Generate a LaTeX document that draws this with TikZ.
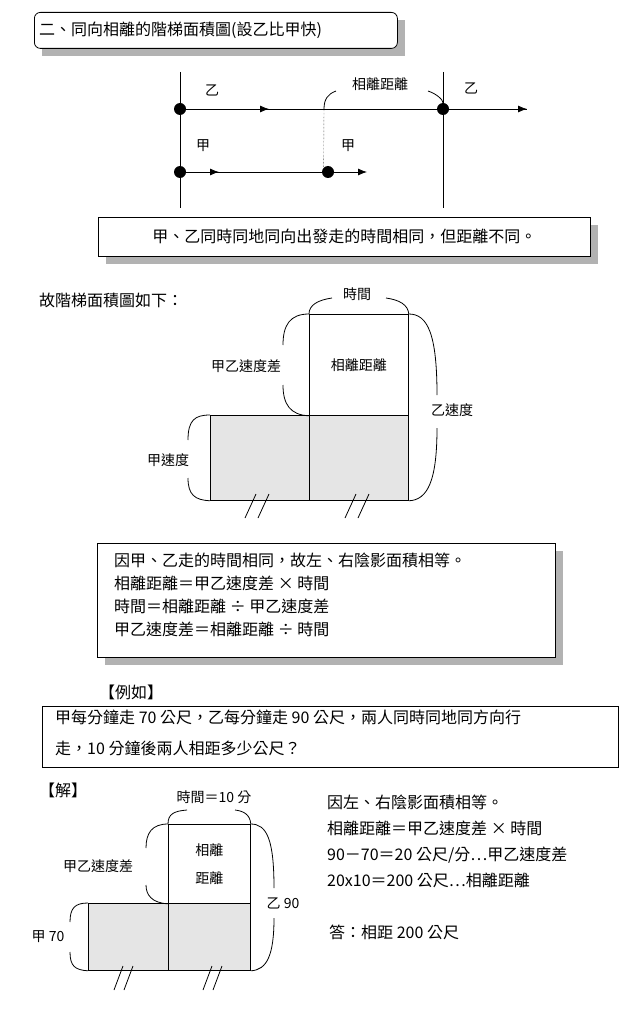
\documentclass[tikz,border=0pt]{standalone}
\usepackage{fontspec}
\setmainfont{Noto Sans CJK TC}
\usetikzlibrary{positioning,arrows.meta}

\begin{document}
\begin{tikzpicture}[x=1pt,y=-1pt,
	txt/.style={font=\fontsize{16}{19}\selectfont, inner sep=1pt},
	lbl/.style={font=\fontsize{14}{17}\selectfont, inner sep=1pt},
	shbox/.style={draw, fill=white, thick},
	shadowbox/.style={fill=black!30, draw=none},
	dot/.style={circle, fill=black, inner sep=0pt, minimum size=12pt},
	arr/.style={-{Latex[length=9pt,width=7pt]}, thick},
	brace/.style={thick},
	shade/.style={draw, thick, fill=black!10},
	cell/.style={draw, thick},
	]
	\useasboundingbox (0,0) rectangle (631,1024);
	%Shadows
	\fill[shadowbox] (42,20) rectangle (405,56);
	\fill[shadowbox] (106,225) rectangle (598,264);
	\fill[shadowbox] (105,551) rectangle (563,665);
	%Title
	\node[shbox, rounded corners=6pt, minimum width=363, minimum height=36, anchor=north west] (title) at (34,12) {};
	\node[txt, anchor=west] (titletxt) at (38,30) {二、同向相離的階梯面積圖(設乙比甲快)};
	
	%Top lines
	\coordinate (v1t) at (180,72); \coordinate (v1b) at (180,208);
	\coordinate (v2t) at (443,72); \coordinate (v2b) at (443,208);
	\draw[thick] (v1t) -- (v1b);
	\draw[thick] (v2t) -- (v2b);
	\node[dot] (y1) at (180,109) {};
	\node[dot] (y2) at (443,109) {};
	\node[dot] (j1) at (180,172) {};
	\node[dot] (j2) at (328,172) {};
	\coordinate (yend) at (527,109);
	\coordinate (ymid) at (269,109);
	\coordinate (jend) at (367,172);
	\coordinate (jmid) at (219,172);
	\draw[thick] (y1) -- (yend);
	\draw[arr] (y1) -- (ymid);
	\draw[arr] (y2) -- (yend);
	\draw[thick] (j1) -- (j2);
	\draw[arr] (j1) -- (jmid);
	\draw[arr] (j2) -- (jend);
	\coordinate (dtop) at (324,109);
	\draw[densely dotted] (dtop) -- (j2.north west);
	\node[lbl] (ylab1) at (212,90) {乙};
	\node[lbl] (ylab2) at (471,88) {乙};
	\node[lbl] (jlab1) at (203,146) {甲};
	\node[lbl] (jlab2) at (348,146) {甲};
	\node[lbl] (gap) at (380,84) {相離距離};
	\draw[thick] (dtop) .. controls (324,99) and (328,94) .. (336,91);
	\draw[thick] (y2) .. controls (443,100) and (437,94) .. (428,91);
	
	%Box 2
	\node[shbox, minimum width=492, minimum height=39, anchor=north west] (box2) at (98,217) {};
	\node[txt] (box2txt) at (box2.center) {甲、乙同時同地同向出發走的時間相同，但距離不同。};
	
	\node[txt, anchor=west] (intro) at (38,300) {故階梯面積圖如下：};
	
	%Staircase
	\node[shade, minimum width=99, minimum height=85, anchor=north west] (a1) at (210,415) {};
	\node[shade, minimum width=99, minimum height=85, anchor=north west] (a2) at (309,415) {};
	\node[cell, minimum width=99, minimum height=101, anchor=north west, lbl] (a3) at (309,314) {相離距離};
	\node[lbl] (tlab) at (357,294) {時間};
	\node[lbl] (dlab) at (246,366) {甲乙速度差};
	\node[lbl] (blab) at (452,410) {乙速度};
	\node[lbl] (alab) at (168,460) {甲速度};
	\draw[brace] (a3.north west) .. controls (309,305) and (318,300) .. (332,298);
	\draw[brace] (a3.north east) .. controls (408,305) and (400,300) .. (386,298);
	\draw[brace] (a3.north west) .. controls (290,314) and (283,325) .. (283,345);
	\draw[brace] (a3.south west) .. controls (290,415) and (283,404) .. (283,385);
	\draw[brace] (a3.north east) .. controls (428,314) and (437,335) .. (437,395);
	\draw[brace] (a2.south east) .. controls (428,500) and (437,480) .. (437,428);
	\draw[brace] (a1.north west) .. controls (195,415) and (188,420) .. (188,440);
	\draw[brace] (a1.south west) .. controls (195,500) and (188,495) .. (188,478);
	\foreach \x in {245,258,345,358}
		\draw[thick] (\x,518) -- (\x+11,494);
	
	%Box 3
	\node[shbox, minimum width=458, minimum height=114, anchor=north west] (box3) at (97,543) {};
	\node[txt, anchor=north west, align=left, font=\fontsize{16}{23}\selectfont] (box3txt) at (113,552) {因甲、乙走的時間相同，故左、右陰影面積相等。\\相離距離＝甲乙速度差 × 時間\\時間＝相離距離 ÷ 甲乙速度差\\甲乙速度差＝相離距離 ÷ 時間};
	
	%Example
	\node[draw, thick, minimum width=576, minimum height=61, anchor=north west] (ex) at (42,706) {};
	\node[txt, fill=white, inner xsep=8pt] (exlab) at (131,692) {【例如】};
	\node[txt, anchor=north west, align=left, font=\fontsize{16}{31}\selectfont] (extxt) at (54,709) {甲每分鐘走 70 公尺，乙每分鐘走 90 公尺，兩人同時同地同方向行\\走，10 分鐘後兩人相距多少公尺？};
	\node[txt, anchor=west] (sol) at (38,790) {【解】};
	
	%Small staircase
	\node[shade, minimum width=80, minimum height=67, anchor=north west] (b1) at (88,903) {};
	\node[shade, minimum width=82, minimum height=67, anchor=north west] (b2) at (168,903) {};
	\node[cell, minimum width=82, minimum height=79, anchor=north west, lbl, align=center, font=\fontsize{14}{28}\selectfont] (b3) at (168,824) {相離\\距離};
	\node[lbl] (tlab2) at (214,797) {時間＝10 分};
	\node[lbl] (dlab2) at (98,866) {甲乙速度差};
	\node[lbl] (blab2) at (283,903) {乙 90};
	\node[lbl] (alab2) at (48,937) {甲 70};
	\draw[brace] (b3.north west) .. controls (168,814) and (174,811) .. (187,810);
	\draw[brace] (b3.north east) .. controls (250,814) and (243,811) .. (235,810);
	\draw[brace] (b3.north west) .. controls (152,824) and (146,833) .. (146,848);
	\draw[brace] (b3.south west) .. controls (152,903) and (146,895) .. (146,885);
	\draw[brace] (b3.north east) .. controls (267,824) and (274,840) .. (274,888);
	\draw[brace] (b2.south east) .. controls (267,970) and (274,955) .. (274,918);
	\draw[brace] (b1.north west) .. controls (75,903) and (70,908) .. (70,922);
	\draw[brace] (b1.south west) .. controls (75,970) and (70,966) .. (70,952);
	\foreach \x in {114,124,203,213}
		\draw[thick] (\x,990) -- (\x+9,966);
	
	%Solution text
	\node[txt, anchor=north west, align=left, font=\fontsize{16}{26}\selectfont] (soltxt) at (326,794) {因左、右陰影面積相等。\\相離距離＝甲乙速度差 × 時間\\90－70＝20 公尺/分…甲乙速度差\\20x10＝200 公尺…相離距離};
	\node[txt, anchor=west] (ans) at (328,932) {答：相距 200 公尺};
\end{tikzpicture}
\end{document}
